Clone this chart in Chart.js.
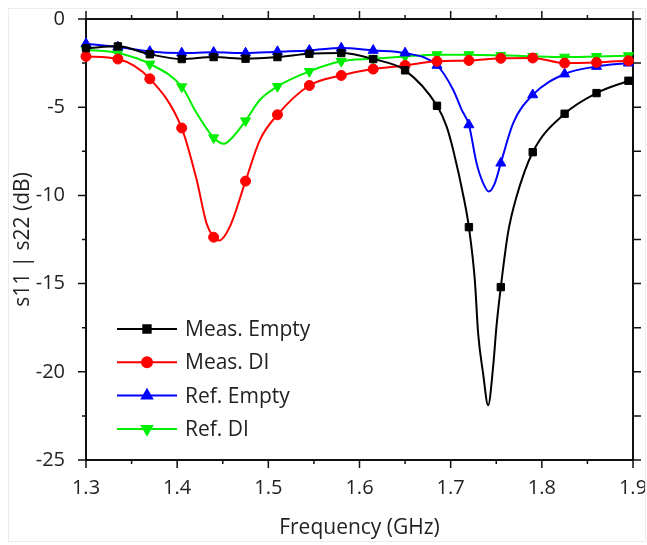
<!DOCTYPE html>
<html>
<head>
<meta charset="utf-8">
<script src="https://cdn.jsdelivr.net/npm/chart.js@4.4.1/dist/chart.umd.min.js"></script>
<style>
  html, body { margin: 0; padding: 0; background: #fff; }
</style>
</head>
<body>
<canvas id="s11Chart" width="647" height="545"></canvas>
<script>
// frequencies where the markers sit (GHz)
const markerFreq = [1.3, 1.335, 1.37, 1.405, 1.44, 1.475, 1.51, 1.545, 1.58, 1.615,
                    1.65, 1.685, 1.72, 1.755, 1.79, 1.825, 1.86, 1.895];

// values at the markers (dB)
const measEmpty = [-1.65, -1.55, -2.00, -2.27, -2.16, -2.25, -2.16, -1.97, -1.93, -2.27,
                   -2.91, -4.92, -11.8, -15.2, -7.55, -5.37, -4.20, -3.50];
const measDI    = [-2.12, -2.27, -3.39, -6.18, -12.37, -9.19, -5.43, -3.77, -3.20, -2.84,
                   -2.63, -2.40, -2.35, -2.23, -2.21, -2.50, -2.46, -2.37];
const refEmpty  = [-1.40, -1.59, -1.84, -1.93, -1.89, -1.93, -1.85, -1.78, -1.65, -1.78,
                   -1.93, -2.63, -6.00, -8.17, -4.30, -3.12, -2.69, -2.50];
const refDI     = [-1.74, -1.93, -2.55, -3.84, -6.73, -5.77, -3.82, -2.97, -2.40, -2.25,
                   -2.12, -2.02, -2.02, -2.06, -2.12, -2.16, -2.12, -2.08];

// extra points of the curves between markers [GHz, dB]
const measEmptyCurve = [[1.6955, -6.09], [1.7027, -7.41], [1.7148, -10.25], [1.7265, -14.8],
                        [1.7301, -17.8], [1.7356, -20.1], [1.7411, -21.9], [1.7466, -19.7],
                        [1.7503, -17.4], [1.763, -12.1], [1.7718, -10.15]];
const measDICurve    = [[1.4213, -9.1], [1.4323, -11.6], [1.4462, -12.56], [1.4579, -11.76],
                        [1.4908, -6.85]];
const refEmptyCurve  = [[1.7027, -4.01], [1.712, -5.14], [1.7284, -8.17], [1.7356, -9.3],
                        [1.7419, -9.78], [1.7485, -9.3], [1.7686, -5.9]];
const refDICurve     = [[1.4213, -5.33], [1.4513, -7.07], [1.4615, -6.66], [1.4908, -4.58]];

// axis ticks
const xTicks = [1.3, 1.4, 1.5, 1.6, 1.7, 1.8, 1.9];
const xMinor = [1.35, 1.45, 1.55, 1.65, 1.75, 1.85];
const yTicks = [0, -5, -10, -15, -20, -25];
const yMinor = [-2.5, -7.5, -12.5, -17.5, -22.5];

const seriesNames = ['Meas. Empty', 'Meas. DI', 'Ref. Empty', 'Ref. DI'];

function buildSeries(vals, curve) {
  const pts = markerFreq.map((f, i) => ({ x: f, y: vals[i], m: true }));
  curve.forEach(p => pts.push({ x: p[0], y: p[1], m: false }));
  pts.sort((a, b) => a.x - b.x);
  return pts;
}

function markerSize(style) {
  return style === 'rect' ? 5.2 : (style === 'circle' ? 5 : 5.8);
}

function makeDataset(label, data, color, style, rot) {
  return {
    label: label,
    data: data,
    borderColor: color,
    backgroundColor: color,
    borderWidth: 2,
    pointStyle: style,
    rotation: rot,
    pointRadius: c => (c.raw && c.raw.m ? markerSize(style) : 0),
    pointBorderWidth: 1,
    cubicInterpolationMode: 'monotone',
    clip: false
  };
}

const FONT = "'Open Sans', 'DejaVu Sans', sans-serif";
Chart.defaults.font.family = FONT;
Chart.defaults.color = '#222';

// frame with outward ticks on all four sides
const framePlugin = {
  id: 'frame',
  beforeDatasetsDraw(chart) {
    const ctx = chart.ctx;
    const a = chart.chartArea;
    const xs = chart.scales.x, ys = chart.scales.y;
    ctx.save();
    // faint outer border of the figure
    ctx.strokeStyle = '#ececec';
    ctx.lineWidth = 1;
    ctx.strokeRect(8.5, 8.5, 637, 533);

    ctx.strokeStyle = '#111';
    ctx.lineWidth = 2;
    ctx.strokeRect(a.left, a.top, a.right - a.left, a.bottom - a.top);
    ctx.lineWidth = 1.5;
    ctx.beginPath();
    const tick = (vals, len) => {
      vals.forEach(v => {
        const px = xs.getPixelForValue(v);
        ctx.moveTo(px, a.bottom); ctx.lineTo(px, a.bottom + len);
        ctx.moveTo(px, a.top); ctx.lineTo(px, a.top - len);
      });
    };
    tick(xTicks, 8);
    tick(xMinor, 4);
    yTicks.forEach(v => {
      const py = ys.getPixelForValue(v);
      ctx.moveTo(a.left, py); ctx.lineTo(a.left - 8, py);
      ctx.moveTo(a.right, py); ctx.lineTo(a.right + 8, py);
    });
    yMinor.forEach(v => {
      const py = ys.getPixelForValue(v);
      ctx.moveTo(a.left, py); ctx.lineTo(a.left - 4, py);
      ctx.moveTo(a.right, py); ctx.lineTo(a.right + 8, py);
    });
    ctx.stroke();
    ctx.restore();
  }
};

// legend: short line with the marker in the middle, then the name
const legendPlugin = {
  id: 'lineLegend',
  afterDatasetsDraw(chart) {
    const ctx = chart.ctx;
    const a = chart.chartArea;
    ctx.save();
    chart.data.datasets.forEach((ds, i) => {
      const y = a.top + 310 + i * 33.3;
      const x0 = a.left + 31, x1 = a.left + 91;
      ctx.strokeStyle = ds.borderColor;
      ctx.lineWidth = 2;
      ctx.beginPath();
      ctx.moveTo(x0, y); ctx.lineTo(x1, y);
      ctx.stroke();
      ctx.fillStyle = ds.backgroundColor;
      Chart.helpers.drawPoint(ctx, {
        pointStyle: ds.pointStyle,
        rotation: ds.rotation,
        radius: markerSize(ds.pointStyle),
        borderWidth: 1
      }, (x0 + x1) / 2, y);
      ctx.fillStyle = '#222';
      ctx.font = '21px ' + FONT;
      ctx.textBaseline = 'middle';
      ctx.textAlign = 'left';
      ctx.fillText(ds.label, a.left + 99, y + 1);
    });
    ctx.restore();
  }
};

const ctx = document.getElementById('s11Chart').getContext('2d');
const chart = new Chart(ctx, {
  type: 'line',
  data: {
    datasets: [
      makeDataset(seriesNames[0], buildSeries(measEmpty, measEmptyCurve), '#000000', 'rect', 0),
      makeDataset(seriesNames[1], buildSeries(measDI, measDICurve), '#ff0000', 'circle', 0),
      makeDataset(seriesNames[2], buildSeries(refEmpty, refEmptyCurve), '#0000ff', 'triangle', 0),
      makeDataset(seriesNames[3], buildSeries(refDI, refDICurve), '#00ee00', 'triangle', 180)
    ]
  },
  options: {
    responsive: false,
    animation: false,
    events: [],
    layout: { padding: { left: 0, top: 19, right: 14, bottom: 0 } },
    plugins: {
      legend: { display: false },
      tooltip: { enabled: false }
    },
    scales: {
      x: {
        type: 'linear',
        min: 1.3,
        max: 1.9,
        grid: { display: false },
        border: { display: false },
        afterBuildTicks: s => { s.ticks = xTicks.map(v => ({ value: v })); },
        afterFit: s => { s.height = 85; s.paddingLeft = 0; s.paddingRight = 0; },
        ticks: {
          font: { size: 20 },
          padding: 8,
          maxRotation: 0,
          callback: v => v.toFixed(1)
        },
        title: {
          display: true,
          text: 'Frequency (GHz)',
          font: { size: 21 },
          padding: 4
        }
      },
      y: {
        min: -25,
        max: 0,
        grid: { display: false },
        border: { display: false },
        afterBuildTicks: s => { s.ticks = yTicks.map(v => ({ value: v })); },
        afterFit: s => { s.width = 86; s.paddingTop = 0; s.paddingBottom = 0; },
        ticks: {
          font: { size: 20 },
          padding: 13,
          callback: v => String(v)
        },
        title: {
          display: true,
          text: 's11 | s22 (dB)',
          font: { size: 21 },
          padding: 10
        }
      }
    }
  },
  plugins: [framePlugin, legendPlugin]
});
</script>
</body>
</html>
